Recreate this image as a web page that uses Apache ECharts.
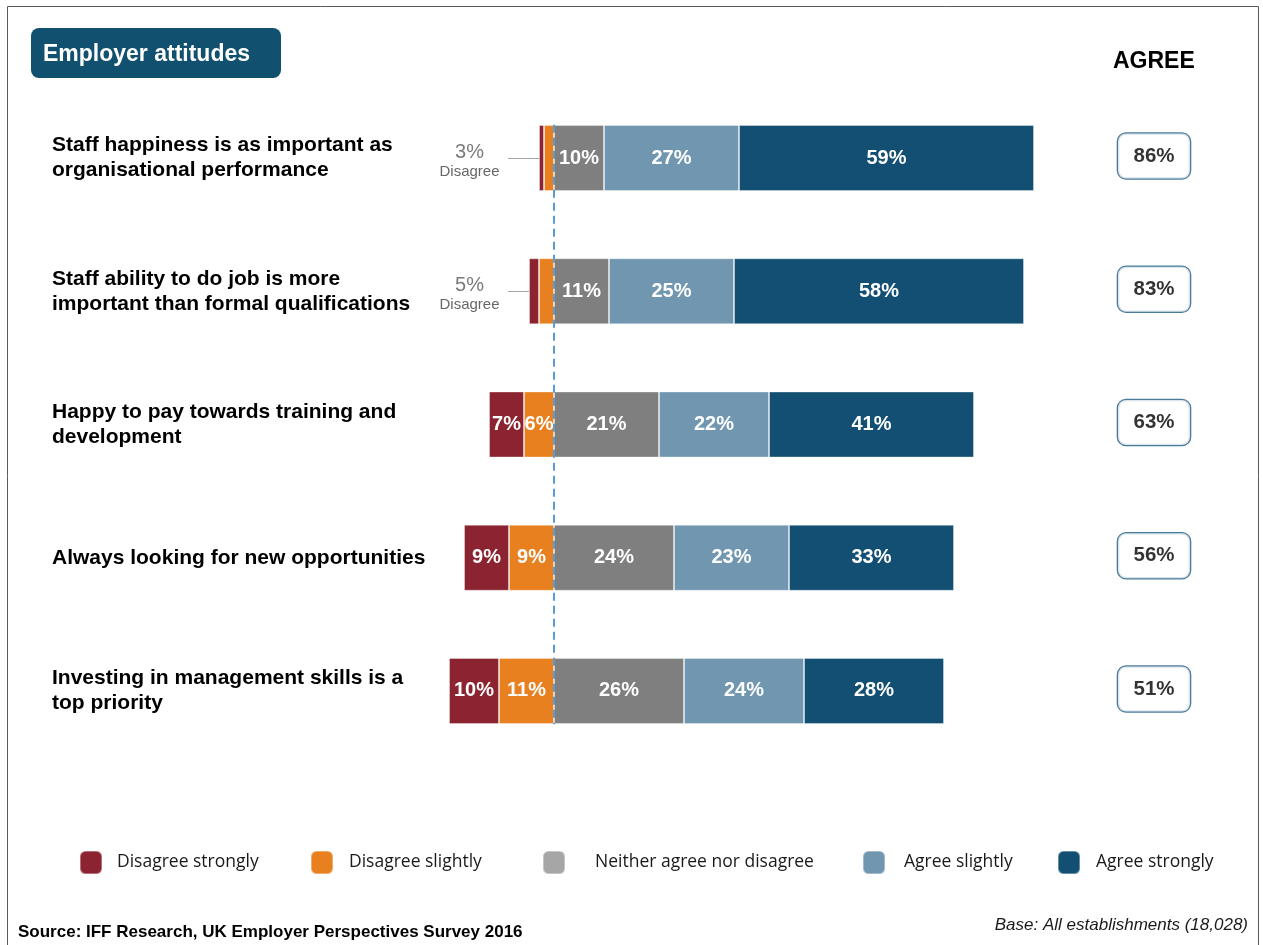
<!DOCTYPE html>
<html>
<head>
<meta charset="utf-8">
<title>Employer attitudes</title>
<script src="https://cdn.jsdelivr.net/npm/echarts@6/dist/echarts.min.js"></script>
<style>
  html, body { margin: 0; padding: 0; background: #ffffff; }
  #chart { width: 1263px; height: 945px; }
</style>
</head>
<body>
<div id="chart"></div>
<script>
// Survey statements (line breaks as they are set in the labels)
const categories = [
  'Staff happiness is as important as\norganisational performance',
  'Staff ability to do job is more\nimportant than formal qualifications',
  'Happy to pay towards training and\ndevelopment',
  'Always looking for new opportunities',
  'Investing in management skills is a\ntop priority'
];

// Response shares, % of establishments
const disagreeStrongly = [1, 2, 7, 9, 10];
const disagreeSlightly = [2, 3, 6, 9, 11];
const neitherAgree     = [10, 11, 21, 24, 26];
const agreeSlightly    = [27, 25, 22, 23, 24];
const agreeStrongly    = [59, 58, 41, 33, 28];

// Net totals printed beside the bars
const disagreeTotal = [3, 5, 13, 18, 21];
const agreeTotal    = [86, 83, 63, 56, 51];

const legendNames = ['Disagree strongly', 'Disagree slightly', 'Neither agree nor disagree', 'Agree slightly', 'Agree strongly'];

// ---- styling / layout ----
const COLORS = {
  dStrong: '#8B2430',
  dSlight: '#E8801F',
  neutral: '#7F7F7F',
  neutralKey: '#A6A6A6',
  aSlight: '#7096B0',
  aStrong: '#124F73',
  navy: '#11506F'
};
const ARIAL = '"Liberation Sans", Arial, Helvetica, sans-serif';
const CALLOUT_LIMIT = 8;     // below this, disagree shares are summarised outside the bar
const CALLOUT_X = -9.2;      // x value where the disagree callout sits
const AGREE_X = 120;         // x value of the agree-total boxes

const pct = v => Math.abs(v) + '%';

function barLabel(extra) {
  return Object.assign({
    show: true,
    position: 'inside',
    color: '#ffffff',
    fontFamily: ARIAL,
    fontWeight: 'bold',
    fontSize: 20
  }, extra || {});
}

const barBase = {
  type: 'bar',
  stack: 'total',
  barWidth: 66,
  xAxisIndex: 0,
  yAxisIndex: 0,
  itemStyle: { borderColor: 'rgba(255,255,255,0.35)', borderWidth: 1 }
};

const chart = echarts.init(document.getElementById('chart'), null, { renderer: 'canvas' });

const legendLefts = [79, 310, 542, 862, 1057];
const legendPad   = [10, 11, 25, 14, 11];
const legendColors = [COLORS.dStrong, COLORS.dSlight, COLORS.neutralKey, COLORS.aSlight, COLORS.aStrong];

const option = {
  animation: false,
  backgroundColor: '#ffffff',
  grid: { left: 404, right: 9, top: 91.4, bottom: 187.4, containLabel: false },
  xAxis: [{
    type: 'value', min: -30, max: 140,
    show: false, splitLine: { show: false }
  }],
  yAxis: [{
    type: 'category',
    data: categories,
    inverse: true,
    axisLine: { show: false },
    axisTick: { show: false },
    axisLabel: {
      align: 'left',
      margin: 352,
      color: '#000000',
      fontFamily: ARIAL,
      fontWeight: 'bold',
      fontSize: 21,
      lineHeight: 25
    }
  }, {
    // helper scale (one unit per row) for the dashed zero reference line
    type: 'value', min: 0, max: 5, inverse: true, show: false
  }],
  legend: legendNames.map((name, i) => ({
    left: legendLefts[i],
    top: 850,
    padding: 0,
    icon: 'roundRect',
    itemWidth: 22,
    itemHeight: 23,
    selectedMode: false,
    textStyle: {
      fontFamily: '"Open Sans", Lato, sans-serif',
      fontSize: 17.5,
      color: '#1a1a1a',
      padding: [0, 0, 0, legendPad[i]]
    },
    data: [{ name: name, itemStyle: { color: legendColors[i] } }]
  })),
  series: [
    Object.assign({}, barBase, {
      name: 'Disagree slightly',
      data: disagreeSlightly.map(v => -v),
      itemStyle: Object.assign({}, barBase.itemStyle, { color: COLORS.dSlight }),
      label: barLabel({ formatter: p => disagreeTotal[p.dataIndex] < CALLOUT_LIMIT ? '' : pct(p.value) })
    }),
    Object.assign({}, barBase, {
      name: 'Disagree strongly',
      data: disagreeStrongly.map(v => -v),
      itemStyle: Object.assign({}, barBase.itemStyle, { color: COLORS.dStrong }),
      label: barLabel({ formatter: p => disagreeTotal[p.dataIndex] < CALLOUT_LIMIT ? '' : pct(p.value) })
    }),
    Object.assign({}, barBase, {
      name: 'Neither agree nor disagree',
      data: neitherAgree,
      itemStyle: Object.assign({}, barBase.itemStyle, { color: COLORS.neutral }),
      label: barLabel({ formatter: p => pct(p.value) })
    }),
    Object.assign({}, barBase, {
      name: 'Agree slightly',
      data: agreeSlightly,
      itemStyle: Object.assign({}, barBase.itemStyle, { color: COLORS.aSlight }),
      label: barLabel({ formatter: p => pct(p.value) })
    }),
    Object.assign({}, barBase, {
      name: 'Agree strongly',
      data: agreeStrongly,
      itemStyle: Object.assign({}, barBase.itemStyle, { color: COLORS.aStrong }),
      label: barLabel({ formatter: p => pct(p.value) })
    }),
    // dashed reference line at zero
    {
      name: 'zero',
      type: 'line',
      xAxisIndex: 0,
      yAxisIndex: 1,
      z: 10,
      silent: true,
      symbol: 'none',
      data: [[0, 0.25], [0, 4.75]],
      lineStyle: { color: '#5B9BD5', width: 2, type: [8, 5] }
    },
    // disagree callouts for thin segments
    {
      name: 'disagreeCallout',
      type: 'scatter',
      xAxisIndex: 0,
      yAxisIndex: 0,
      silent: true,
      symbolSize: 1,
      itemStyle: { color: 'rgba(0,0,0,0)' },
      data: disagreeTotal
        .map((t, i) => ({ t, i }))
        .filter(d => d.t < CALLOUT_LIMIT)
        .map(d => ({ value: [CALLOUT_X, categories[d.i]], total: d.t })),
      label: {
        show: true,
        position: 'left',
        distance: 38,
        align: 'center',
        offset: [0, 3],
        formatter: p => '{a|' + p.data.total + '%}\n{b|Disagree}',
        rich: {
          a: { fontFamily: ARIAL, fontSize: 20, color: '#595959', lineHeight: 22, align: 'center' },
          b: { fontFamily: ARIAL, fontSize: 15, color: '#404040', lineHeight: 18, align: 'center' }
        }
      },
      markLine: {
        silent: true,
        symbol: 'none',
        label: { show: false },
        lineStyle: { color: '#A6A6A6', width: 1, type: 'solid' },
        data: disagreeTotal
          .map((t, i) => ({ t, i }))
          .filter(d => d.t < CALLOUT_LIMIT)
          .map(d => [{ coord: [CALLOUT_X, categories[d.i]] }, { coord: [-d.t, categories[d.i]] }])
      }
    },
    // agree totals in outlined boxes
    {
      name: 'agreeTotal',
      type: 'scatter',
      xAxisIndex: 0,
      yAxisIndex: 0,
      silent: true,
      symbolSize: 1,
      itemStyle: { color: 'rgba(0,0,0,0)' },
      data: agreeTotal.map((t, i) => ({ value: [AGREE_X, categories[i]], total: t })),
      label: {
        show: true,
        position: 'inside',
        offset: [0, -2],
        formatter: p => p.data.total + '%',
        fontFamily: ARIAL,
        fontWeight: 'bold',
        fontSize: 20.5,
        color: '#000000',
        backgroundColor: '#ffffff',
        borderColor: '#1D5A82',
        borderWidth: 1.3,
        borderRadius: 8,
        width: 72,
        height: 45,
        lineHeight: 45,
        align: 'center',
        verticalAlign: 'middle'
      }
    }
  ],
  graphic: [
    // outer frame
    {
      type: 'rect', silent: true, z: -1,
      shape: { x: 7.5, y: 6.5, width: 1251, height: 1000 },
      style: { fill: 'none', stroke: '#595959', lineWidth: 1 }
    },
    // heading tab
    {
      type: 'rect', silent: true,
      shape: { x: 31, y: 28, width: 250, height: 50, r: 8 },
      style: { fill: COLORS.navy }
    },
    {
      type: 'text', silent: true, left: 43, top: 43,
      style: { text: 'Employer attitudes', fill: '#ffffff', font: 'bold 23px ' + ARIAL }
    },
    {
      type: 'text', silent: true, left: 1113, top: 50,
      style: { text: 'AGREE', fill: '#000000', font: 'bold 23px ' + ARIAL }
    },
    {
      type: 'text', silent: true, left: 18, top: 924,
      style: { text: 'Source: IFF Research, UK Employer Perspectives Survey 2016', fill: '#000000', font: 'bold 17px ' + ARIAL }
    },
    {
      type: 'text', silent: true, right: 15, top: 917,
      style: { text: 'Base: All establishments (18,028)', fill: '#1a1a1a', font: 'italic 17px ' + ARIAL }
    }
  ]
};

chart.setOption(option);
</script>
</body>
</html>
